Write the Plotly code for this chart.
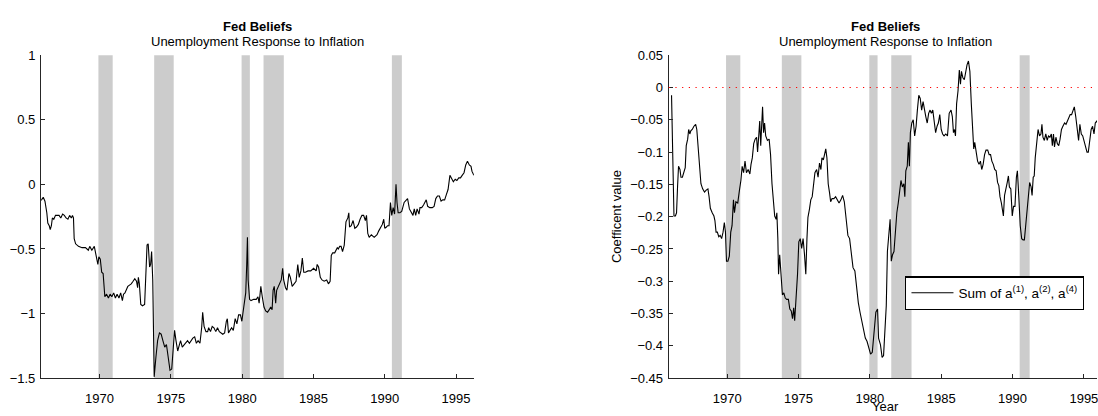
import plotly.graph_objects as go

# ---------------- data ----------------
left_years = [1965.9, 1965.93, 1966.05, 1966.17, 1966.30, 1966.37, 1966.47, 1966.54, 1966.62, 1966.69, 1966.79, 1966.91,
              1967.16, 1967.28, 1967.41, 1967.53, 1967.65, 1967.78, 1967.90, 1968.02, 1968.10, 1968.17, 1968.22, 1968.32,
              1968.52, 1968.77, 1969.01, 1969.21, 1969.31, 1969.46, 1969.63, 1969.70, 1969.80, 1969.88, 1969.95, 1970.05,
              1970.15, 1970.25, 1970.37, 1970.49, 1970.62, 1970.74, 1970.86, 1970.99, 1971.11, 1971.23, 1971.36, 1971.48,
              1971.60, 1971.68, 1971.78, 1971.85, 1971.98, 1972.10, 1972.22, 1972.35, 1972.47, 1972.59, 1972.67, 1972.72,
              1972.79, 1972.89, 1973.01, 1973.16, 1973.21, 1973.33, 1973.41, 1973.51, 1973.58, 1973.65, 1973.73, 1973.83,
              1973.95, 1974.07, 1974.20, 1974.32, 1974.44, 1974.57, 1974.69, 1974.81, 1974.94, 1975.06, 1975.19, 1975.26,
              1975.36, 1975.48, 1975.60, 1975.68, 1975.80, 1975.93, 1976.05, 1976.17, 1976.30, 1976.42, 1976.54, 1976.67,
              1976.79, 1976.91, 1977.04, 1977.16, 1977.23, 1977.33, 1977.46, 1977.58, 1977.65, 1977.78, 1977.90, 1978.02,
              1978.15, 1978.27, 1978.40, 1978.64, 1978.77, 1978.89, 1978.96, 1979.04, 1979.14, 1979.26, 1979.38, 1979.51,
              1979.63, 1979.75, 1979.88, 1979.98, 1980.05, 1980.12, 1980.25, 1980.32, 1980.37, 1980.42, 1980.52, 1980.62,
              1980.81, 1980.99, 1981.11, 1981.19, 1981.31, 1981.41, 1981.53, 1981.65, 1981.78, 1981.90, 1982.00, 1982.10,
              1982.17, 1982.25, 1982.35, 1982.42, 1982.52, 1982.59, 1982.74, 1982.84, 1982.91, 1983.04, 1983.14, 1983.28,
              1983.38, 1983.51, 1983.63, 1983.78, 1983.90, 1984.00, 1984.12, 1984.22, 1984.32, 1984.44, 1984.62, 1984.81,
              1985.01, 1985.19, 1985.26, 1985.36, 1985.48, 1985.60, 1985.75, 1985.93, 1986.05, 1986.17, 1986.25, 1986.35,
              1986.49, 1986.67, 1986.74, 1986.84, 1986.94, 1987.04, 1987.16, 1987.28, 1987.41, 1987.48, 1987.53, 1987.65,
              1987.78, 1987.90, 1988.02, 1988.15, 1988.27, 1988.40, 1988.52, 1988.64, 1988.72, 1988.81, 1988.91, 1989.06,
              1989.26, 1989.46, 1989.58, 1989.70, 1989.83, 1989.93, 1990.00, 1990.12, 1990.20, 1990.30, 1990.40, 1990.49,
              1990.59, 1990.69, 1990.79, 1990.86, 1990.94, 1991.06, 1991.19, 1991.36, 1991.48, 1991.60, 1991.73, 1991.85,
              1991.98, 1992.07, 1992.17, 1992.27, 1992.40, 1992.47, 1992.59, 1992.72, 1992.84, 1992.91, 1993.01, 1993.16,
              1993.33, 1993.46, 1993.58, 1993.70, 1993.83, 1993.95, 1994.07, 1994.20, 1994.32, 1994.44, 1994.57, 1994.69,
              1994.81, 1994.94, 1995.06, 1995.19, 1995.31, 1995.43, 1995.56, 1995.68, 1995.80, 1995.93, 1996.05, 1996.12,
              1996.20, 1996.25]
left_vals = [-0.12, -0.12, -0.10, -0.13, -0.22, -0.30, -0.32, -0.35, -0.32, -0.26, -0.27, -0.24,
             -0.24, -0.26, -0.23, -0.24, -0.26, -0.27, -0.24, -0.26, -0.24, -0.26, -0.42, -0.46,
             -0.48, -0.49, -0.49, -0.51, -0.48, -0.51, -0.48, -0.52, -0.58, -0.62, -0.56, -0.58,
             -0.68, -0.69, -0.87, -0.85, -0.88, -0.85, -0.87, -0.84, -0.88, -0.85, -0.88, -0.84,
             -0.90, -0.85, -0.84, -0.82, -0.79, -0.78, -0.77, -0.75, -0.73, -0.75, -0.80, -0.72,
             -0.77, -0.93, -0.94, -0.93, -0.79, -0.47, -0.46, -0.64, -0.62, -0.52, -0.74, -1.49,
             -1.34, -1.21, -1.15, -1.16, -1.21, -1.26, -1.24, -1.36, -1.44, -1.43, -1.26, -1.13,
             -1.21, -1.29, -1.24, -1.21, -1.26, -1.24, -1.23, -1.21, -1.23, -1.21, -1.19, -1.18,
             -1.23, -1.21, -1.23, -1.11, -0.99, -1.10, -1.14, -1.14, -1.11, -1.14, -1.10, -1.11,
             -1.14, -1.11, -1.14, -1.16, -1.15, -1.06, -1.04, -1.15, -1.13, -1.11, -1.13, -1.04,
             -1.08, -1.01, -1.01, -1.06, -1.00, -0.94, -0.84, -0.62, -0.41, -0.74, -0.89, -0.90,
             -0.89, -0.89, -0.87, -0.92, -0.79, -0.87, -0.95, -0.98, -0.99, -0.97, -0.95, -0.97,
             -0.82, -0.79, -0.92, -0.82, -0.79, -0.77, -0.74, -0.65, -0.74, -0.80, -0.82, -0.69,
             -0.72, -0.79, -0.77, -0.75, -0.62, -0.72, -0.67, -0.57, -0.68, -0.68, -0.67, -0.67,
             -0.65, -0.67, -0.62, -0.64, -0.72, -0.74, -0.75, -0.74, -0.77, -0.75, -0.55, -0.53,
             -0.53, -0.49, -0.50, -0.48, -0.48, -0.52, -0.47, -0.29, -0.26, -0.22, -0.33, -0.32,
             -0.28, -0.34, -0.33, -0.31, -0.27, -0.24, -0.24, -0.28, -0.24, -0.38, -0.41, -0.39,
             -0.41, -0.39, -0.36, -0.34, -0.31, -0.27, -0.34, -0.33, -0.32, -0.32, -0.14, -0.24,
             -0.18, -0.23, 0.00, -0.14, -0.22, -0.22, -0.21, -0.14, -0.12, -0.11, -0.19, -0.22,
             -0.24, -0.19, -0.24, -0.19, -0.23, -0.18, -0.18, -0.16, -0.14, -0.12, -0.17, -0.18,
             -0.18, -0.17, -0.11, -0.09, -0.09, -0.13, -0.12, -0.12, -0.08, -0.04, 0.07, 0.04,
             0.02, 0.04, 0.03, 0.05, 0.05, 0.07, 0.09, 0.15, 0.18, 0.15, 0.14, 0.10,
             0.08, 0.07]

right_years = [1966.10, 1966.20, 1966.27, 1966.37, 1966.45, 1966.52, 1966.59, 1966.69, 1966.76, 1966.86, 1966.96, 1967.06,
               1967.13, 1967.23, 1967.30, 1967.38, 1967.45, 1967.55, 1967.67, 1967.79, 1967.87, 1967.97, 1968.06, 1968.16,
               1968.28, 1968.41, 1968.53, 1968.65, 1968.73, 1968.82, 1968.95, 1969.07, 1969.14, 1969.22, 1969.31, 1969.41,
               1969.51, 1969.61, 1969.71, 1969.80, 1969.88, 1969.95, 1970.05, 1970.15, 1970.25, 1970.34, 1970.44, 1970.51,
               1970.61, 1970.74, 1970.86, 1970.96, 1971.05, 1971.15, 1971.25, 1971.35, 1971.47, 1971.59, 1971.67, 1971.76,
               1971.86, 1971.96, 1972.06, 1972.13, 1972.21, 1972.28, 1972.35, 1972.43, 1972.48, 1972.55, 1972.62, 1972.70,
               1972.82, 1972.94, 1973.04, 1973.14, 1973.24, 1973.33, 1973.43, 1973.48, 1973.55, 1973.60, 1973.68, 1973.77,
               1973.87, 1973.97, 1974.07, 1974.17, 1974.29, 1974.39, 1974.49, 1974.58, 1974.66, 1974.73, 1974.83, 1974.93,
               1975.02, 1975.12, 1975.22, 1975.32, 1975.42, 1975.51, 1975.59, 1975.66, 1975.76, 1975.86, 1975.96, 1976.05,
               1976.15, 1976.27, 1976.37, 1976.47, 1976.57, 1976.64, 1976.74, 1976.84, 1976.91, 1976.99, 1977.08, 1977.18,
               1977.25, 1977.35, 1977.48, 1977.60, 1977.72, 1977.84, 1977.97, 1978.09, 1978.21, 1978.33, 1978.46, 1978.58,
               1978.70, 1978.82, 1978.95, 1979.07, 1979.19, 1979.31, 1979.44, 1979.56, 1979.68, 1979.80, 1979.93, 1980.05,
               1980.17, 1980.29, 1980.42, 1980.54, 1980.61, 1980.74, 1980.86, 1980.96, 1981.05, 1981.15, 1981.23, 1981.32,
               1981.42, 1981.50, 1981.59, 1981.69, 1981.79, 1981.89, 1981.99, 1982.08, 1982.18, 1982.28, 1982.38, 1982.45,
               1982.52, 1982.62, 1982.70, 1982.77, 1982.84, 1982.94, 1983.04, 1983.14, 1983.24, 1983.33, 1983.43, 1983.53,
               1983.63, 1983.73, 1983.82, 1983.92, 1984.02, 1984.12, 1984.22, 1984.31, 1984.41, 1984.51, 1984.61, 1984.71,
               1984.80, 1984.90, 1985.00, 1985.10, 1985.20, 1985.32, 1985.44, 1985.56, 1985.69, 1985.78, 1985.86, 1985.93,
               1986.00, 1986.08, 1986.18, 1986.27, 1986.35, 1986.42, 1986.52, 1986.62, 1986.72, 1986.81, 1986.91, 1987.01,
               1987.11, 1987.21, 1987.28, 1987.35, 1987.45, 1987.55, 1987.65, 1987.75, 1987.84, 1987.94, 1988.04, 1988.14,
               1988.26, 1988.36, 1988.46, 1988.55, 1988.65, 1988.75, 1988.85, 1988.95, 1989.04, 1989.12, 1989.22, 1989.31,
               1989.36, 1989.44, 1989.53, 1989.63, 1989.71, 1989.78, 1989.88, 1989.98, 1990.07, 1990.17, 1990.27, 1990.34,
               1990.44, 1990.54, 1990.64, 1990.74, 1990.83, 1990.93, 1991.03, 1991.13, 1991.20, 1991.30, 1991.37, 1991.45,
               1991.52, 1991.59, 1991.69, 1991.79, 1991.89, 1991.99, 1992.06, 1992.13, 1992.23, 1992.33, 1992.43, 1992.52,
               1992.62, 1992.72, 1992.79, 1992.87, 1992.94, 1993.04, 1993.14, 1993.24, 1993.33, 1993.43, 1993.53, 1993.65,
               1993.75, 1993.85, 1993.95, 1994.04, 1994.14, 1994.26, 1994.33, 1994.43, 1994.53, 1994.63, 1994.72, 1994.82,
               1994.92, 1995.02, 1995.12, 1995.22, 1995.31, 1995.41, 1995.51, 1995.61, 1995.71, 1995.80, 1995.90, 1996.00,
               1996.12, 1996.25]
right_vals = [-0.012, -0.154, -0.199, -0.199, -0.194, -0.154, -0.122, -0.127, -0.139, -0.139, -0.132, -0.124,
              -0.090, -0.080, -0.065, -0.072, -0.067, -0.065, -0.060, -0.057, -0.065, -0.095, -0.119, -0.149,
              -0.157, -0.162, -0.159, -0.157, -0.169, -0.187, -0.194, -0.199, -0.206, -0.224, -0.224, -0.231,
              -0.229, -0.234, -0.224, -0.209, -0.224, -0.269, -0.269, -0.261, -0.224, -0.214, -0.174, -0.194,
              -0.177, -0.179, -0.159, -0.144, -0.122, -0.132, -0.114, -0.132, -0.127, -0.134, -0.119, -0.109,
              -0.087, -0.080, -0.077, -0.100, -0.075, -0.052, -0.090, -0.050, -0.030, -0.070, -0.055, -0.075,
              -0.082, -0.080, -0.104, -0.149, -0.174, -0.199, -0.204, -0.194, -0.234, -0.289, -0.259, -0.294,
              -0.321, -0.318, -0.326, -0.328, -0.328, -0.343, -0.346, -0.358, -0.341, -0.361, -0.328, -0.289,
              -0.239, -0.234, -0.249, -0.234, -0.259, -0.289, -0.234, -0.201, -0.189, -0.174, -0.169, -0.149,
              -0.132, -0.127, -0.139, -0.117, -0.127, -0.109, -0.112, -0.102, -0.095, -0.109, -0.149, -0.164,
              -0.177, -0.172, -0.172, -0.169, -0.174, -0.179, -0.174, -0.167, -0.177, -0.204, -0.229, -0.234,
              -0.254, -0.279, -0.284, -0.313, -0.333, -0.348, -0.363, -0.378, -0.388, -0.393, -0.403, -0.413,
              -0.410, -0.373, -0.348, -0.343, -0.388, -0.398, -0.418, -0.415, -0.378, -0.338, -0.254, -0.229,
              -0.204, -0.269, -0.259, -0.254, -0.219, -0.194, -0.179, -0.159, -0.144, -0.154, -0.149, -0.169,
              -0.129, -0.122, -0.085, -0.122, -0.070, -0.055, -0.050, -0.075, -0.060, -0.035, -0.012, -0.017,
              -0.035, -0.022, -0.035, -0.045, -0.055, -0.040, -0.035, -0.040, -0.035, -0.055, -0.070, -0.060,
              -0.055, -0.042, -0.065, -0.072, -0.075, -0.072, -0.075, -0.040, -0.035, -0.045, -0.070, -0.065,
              -0.075, -0.025, -0.005, 0.027, 0.005, 0.025, 0.015, 0.012, 0.027, 0.035, 0.041, 0.025,
              -0.025, -0.075, -0.095, -0.085, -0.100, -0.114, -0.119, -0.114, -0.127, -0.119, -0.104, -0.097,
              -0.097, -0.104, -0.104, -0.114, -0.119, -0.127, -0.129, -0.147, -0.152, -0.169, -0.179, -0.194,
              -0.199, -0.167, -0.159, -0.147, -0.137, -0.154, -0.157, -0.199, -0.184, -0.184, -0.139, -0.129,
              -0.169, -0.214, -0.234, -0.236, -0.236, -0.214, -0.189, -0.174, -0.147, -0.154, -0.167, -0.139,
              -0.137, -0.109, -0.080, -0.065, -0.075, -0.072, -0.057, -0.077, -0.082, -0.072, -0.082, -0.075,
              -0.077, -0.072, -0.090, -0.072, -0.092, -0.077, -0.087, -0.090, -0.080, -0.065, -0.060, -0.055,
              -0.057, -0.052, -0.047, -0.042, -0.042, -0.035, -0.030, -0.045, -0.062, -0.082, -0.057, -0.072,
              -0.075, -0.085, -0.095, -0.100, -0.100, -0.080, -0.065, -0.060, -0.072, -0.055, -0.052, -0.055,
              -0.058, -0.060]

recession_start = [1969.92, 1973.83, 1979.96, 1981.50, 1990.50]
recession_end = [1970.92, 1975.20, 1980.54, 1982.92, 1991.20]

left_yticks = [1, 0.5, 0, -0.5, -1, -1.5]
left_yticktext = ["1", "0.5", "0", "\u22120.5", "\u22121", "\u22121.5"]
right_yticks = [0.05, 0, -0.05, -0.1, -0.15, -0.2, -0.25, -0.3, -0.35, -0.4, -0.45]
right_yticktext = ["0.05", "0", "\u22120.05", "\u22120.1", "\u22120.15", "\u22120.2", "\u22120.25",
                   "\u22120.3", "\u22120.35", "\u22120.4", "\u22120.45"]
xticks = [1970, 1975, 1980, 1985, 1990, 1995]

title_text = "Fed Beliefs"
subtitle_text = "Unemployment Response to Inflation"
legend_label = "Sum of a<sup>(1)</sup>, a<sup>(2)</sup>, a<sup>(4)</sup>"

# ---------------- figure ----------------
W, H = 1098, 416
FONT = "Liberation Sans, Arial, Helvetica, sans-serif"
AXC = "#262626"

fig = go.Figure()
fig.add_trace(go.Scatter(x=left_years, y=left_vals, mode="lines",
                         line=dict(color="black", width=1.1), showlegend=False,
                         xaxis="x", yaxis="y", hoverinfo="skip"))
fig.add_trace(go.Scatter(x=right_years, y=right_vals, mode="lines",
                         line=dict(color="black", width=1.1), name=legend_label,
                         showlegend=True, xaxis="x2", yaxis="y2", hoverinfo="skip"))

shapes = []
for xa, ya in (("x", "y"), ("x2", "y2")):
    for s, e in zip(recession_start, recession_end):
        shapes.append(dict(type="rect", xref=xa, yref=ya + " domain", x0=s, x1=e, y0=0, y1=1,
                           fillcolor="#cccccc", line=dict(width=0), layer="below"))
shapes.append(dict(type="line", xref="x2 domain", yref="y2", x0=0, x1=1, y0=0, y1=0,
                   line=dict(color="#ff0000", width=1.2, dash="1.2px,5.5px"), layer="above"))

ydom = [1 - 385 / H, 1 - 50 / H]
axis_common = dict(showline=True, linecolor=AXC, linewidth=1, ticks="inside", ticklen=4,
                   tickcolor=AXC, tickwidth=1, showgrid=False, zeroline=False,
                   ticklabeloverflow="allow",
                   tickfont=dict(family=FONT, size=13, color="black"))

fig.update_layout(
    width=W, height=H, autosize=False,
    margin=dict(l=0, r=0, t=0, b=0),
    paper_bgcolor="white", plot_bgcolor="white",
    font=dict(family=FONT, size=13, color="black"),
    shapes=shapes,
    xaxis=dict(domain=[41 / W, 474.3 / W], range=[1965.89, 1996.25], tickvals=xticks,
               anchor="y", ticklabelstandoff=8, **axis_common),
    yaxis=dict(domain=ydom, range=[-1.5, 1], tickvals=left_yticks, ticktext=left_yticktext,
               anchor="x", ticklabelstandoff=2, **axis_common),
    xaxis2=dict(domain=[669.3 / W, 1.0], range=[1965.9, 1995.92], tickvals=xticks,
                anchor="y2", ticklabelstandoff=8, **axis_common),
    yaxis2=dict(domain=ydom, range=[-0.45, 0.05], tickvals=right_yticks, ticktext=right_yticktext,
                anchor="x2", ticklabelstandoff=2, **axis_common),
    legend=dict(x=906 / W, y=1 - 279.3 / H, xanchor="left", yanchor="top",
                bordercolor="black", borderwidth=1.3, bgcolor="white",
                font=dict(family=FONT, size=13.5, color="black"),
                tracegroupgap=0, itemwidth=42),
    showlegend=True,
)

ann = []
for cx in (257.7, 886.0):
    ann.append(dict(text="<b>" + title_text + "</b>", x=cx / W, y=1 - 20 / H, xref="paper", yref="paper",
                    xanchor="center", yanchor="middle", showarrow=False,
                    font=dict(family=FONT, size=13, color="black")))
    ann.append(dict(text=subtitle_text, x=cx / W, y=1 - 35.7 / H, xref="paper", yref="paper",
                    xanchor="center", yanchor="middle", showarrow=False,
                    font=dict(family=FONT, size=13, color="black")))
ann.append(dict(text="Coefficent value", x=617 / W, y=1 - 217.5 / H, xref="paper", yref="paper",
                xanchor="center", yanchor="middle", textangle=-90, showarrow=False,
                font=dict(family=FONT, size=13, color="black")))
ann.append(dict(text="Year", x=886 / W, y=1 - 414 / H, xref="paper", yref="paper",
                xanchor="center", yanchor="middle", showarrow=False,
                font=dict(family=FONT, size=13, color="black")))
fig.update_layout(annotations=ann)

fig.write_html("out.html")
